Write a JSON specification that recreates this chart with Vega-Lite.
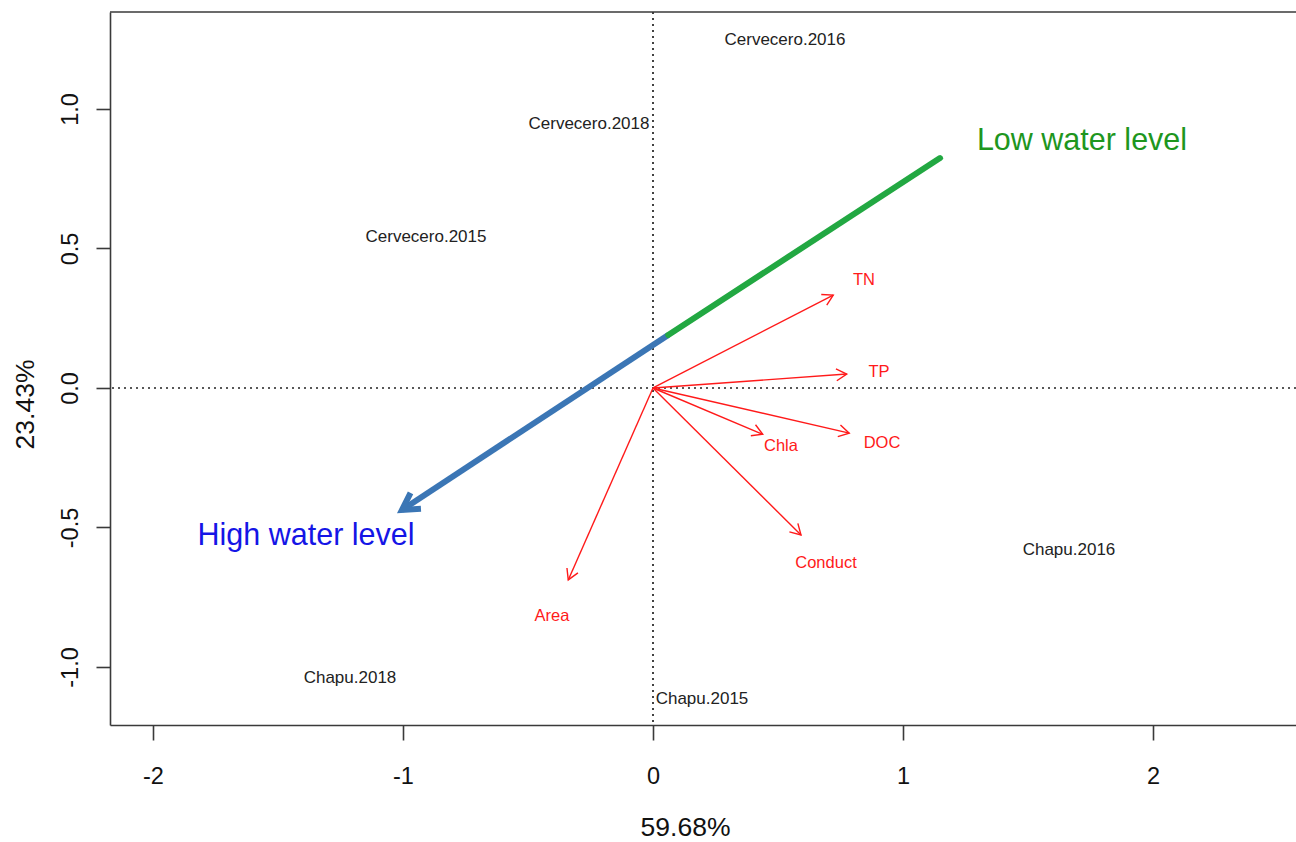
{
  "$schema": "https://vega.github.io/schema/vega-lite/v6.json",
  "width": 1186,
  "height": 713,
  "autosize": {"type": "none"},
  "padding": {"left": 110, "top": 12, "right": 0, "bottom": 117},
  "background": "white",
  "config": {
    "view": {"stroke": null},
    "font": "Liberation Sans",
    "axis": {"grid": false, "labelFont": "Liberation Sans", "titleFont": "Liberation Sans", "labelColor": "#111111", "titleColor": "#111111", "domainColor": "#3a3a3a", "tickColor": "#3a3a3a", "domainWidth": 1.6, "tickWidth": 1.6, "labelFontSize": 23.5, "titleFontSize": 26.5, "titleFontWeight": "normal", "labelOverlap": false, "labelFlush": false},
    "axisX": {"tickSize": 15, "labelPadding": 24, "labelBaseline": "top", "titleX": 575, "titleY": 110, "titleAlign": "center", "titleBaseline": "alphabetic"},
    "axisY": {"tickSize": 14, "labelAngle": 270, "labelAlign": "center", "labelBaseline": "alphabetic", "labelPadding": 19, "titleAngle": 270, "titleX": -77, "titleY": 392, "titleAlign": "center", "titleBaseline": "alphabetic"}
  },
  "datasets": {
    "sites": [
      {"label": "Cervecero.2016", "x": 0.528, "y": 1.247},
      {"label": "Cervecero.2018", "x": -0.256, "y": 0.946},
      {"label": "Cervecero.2015", "x": -0.908, "y": 0.541},
      {"label": "Chapu.2016", "x": 1.664, "y": -0.581},
      {"label": "Chapu.2018", "x": -1.212, "y": -1.039},
      {"label": "Chapu.2015", "x": 0.196, "y": -1.115}
    ],
    "arrows": [
      {"name": "TN", "kind": "var", "x0": 0, "y0": 0, "x": 0.721, "y": 0.333},
      {"name": "TP", "kind": "var", "x0": 0, "y0": 0, "x": 0.775, "y": 0.05},
      {"name": "DOC", "kind": "var", "x0": 0, "y0": 0, "x": 0.785, "y": -0.162},
      {"name": "Chla", "kind": "var", "x0": 0, "y0": 0, "x": 0.439, "y": -0.166},
      {"name": "Conduct", "kind": "var", "x0": 0, "y0": 0, "x": 0.592, "y": -0.527},
      {"name": "Area", "kind": "var", "x0": 0, "y0": 0, "x": -0.339, "y": -0.688},
      {"name": "High water level", "kind": "high", "x0": 0.061, "y0": 0.19, "x": -1.004, "y": -0.437},
      {"name": "Low water level", "kind": "low", "x0": 0.061, "y0": 0.19, "x": 1.148, "y": 0.824}
    ],
    "varlabels": [
      {"label": "TN", "x": 0.844, "y": 0.387},
      {"label": "TP", "x": 0.904, "y": 0.057},
      {"label": "DOC", "x": 0.916, "y": -0.197},
      {"label": "Chla", "x": 0.512, "y": -0.208},
      {"label": "Conduct", "x": 0.692, "y": -0.627},
      {"label": "Area", "x": -0.404, "y": -0.817}
    ],
    "notes": [
      {"label": "Low water level", "kind": "low", "x": 1.716, "y": 0.885},
      {"label": "High water level", "kind": "high", "x": -1.388, "y": -0.53}
    ]
  },
  "layer": [
    {
      "data": {"values": [{}]},
      "mark": {"type": "rule", "color": "#222222", "strokeWidth": 1.7, "strokeDash": [2, 4]},
      "encoding": {"x": {"datum": 0, "type": "quantitative", "scale": {"domain": [-2.172, 2.572], "nice": false, "zero": false}}}
    },
    {
      "data": {"values": [{}]},
      "mark": {"type": "rule", "color": "#222222", "strokeWidth": 1.7, "strokeDash": [2, 4]},
      "encoding": {"y": {"datum": 0, "type": "quantitative", "scale": {"domain": [-1.208, 1.3477], "nice": false, "zero": false}}}
    },
    {
      "data": {"values": [{}]},
      "mark": {"type": "rule", "color": "#3a3a3a", "strokeWidth": 1.6},
      "encoding": {"y": {"datum": 1.3477, "type": "quantitative", "scale": {"domain": [-1.208, 1.3477], "nice": false, "zero": false}}}
    },
    {
      "encoding": {
        "x": {"field": "x", "type": "quantitative", "scale": {"domain": [-2.172, 2.572], "nice": false, "zero": false}, "axis": {"values": [-2, -1, 0, 1, 2], "labelExpr": "datum.value < 0 ? '-' + format(abs(datum.value), 'd') : format(datum.value, 'd')", "title": "59.68%"}},
        "y": {"field": "y", "type": "quantitative", "scale": {"domain": [-1.208, 1.3477], "nice": false, "zero": false}, "axis": {"values": [-1, -0.5, 0, 0.5, 1], "labelExpr": "datum.value < 0 ? '-' + format(abs(datum.value), '.1f') : format(datum.value, '.1f')", "title": "23.43%"}}
      },
      "layer": [
        {
          "data": {"name": "arrows"},
          "transform": [{"filter": "datum.kind == 'var'"}],
          "mark": {"type": "rule", "color": "#ff1a1a", "strokeWidth": 1.4},
          "encoding": {"x2": {"field": "x0"}, "y2": {"field": "y0"}}
        },
        {
          "data": {"name": "arrows"},
          "transform": [{"filter": "datum.kind == 'high'"}],
          "mark": {"type": "rule", "color": "#3b76b5", "strokeWidth": 6, "strokeCap": "butt"},
          "encoding": {"x2": {"field": "x0"}, "y2": {"field": "y0"}}
        },
        {
          "data": {"name": "arrows"},
          "transform": [{"filter": "datum.kind == 'low'"}],
          "mark": {"type": "rule", "color": "#22a842", "strokeWidth": 6, "strokeCap": "round"},
          "encoding": {"x2": {"field": "x0"}, "y2": {"field": "y0"}}
        },
        {
          "data": {"name": "arrows"},
          "transform": [{"filter": "datum.kind == 'var'"}, {"calculate": "atan2(250 * (datum.x - datum.x0), 279 * (datum.y - datum.y0)) * 180 / PI", "as": "angle"}],
          "mark": {"type": "point", "shape": "M -0.5 0.866 L 0 0 L 0.5 0.866", "filled": false, "color": "#ff1a1a", "strokeWidth": 1.4, "size": 576, "opacity": 1},
          "encoding": {"angle": {"field": "angle", "type": "quantitative", "scale": null}}
        },
        {
          "data": {"name": "arrows"},
          "transform": [{"filter": "datum.kind == 'high'"}, {"calculate": "atan2(250 * (datum.x - datum.x0), 279 * (datum.y - datum.y0)) * 180 / PI", "as": "angle"}],
          "mark": {"type": "point", "shape": "M -0.5 0.866 L 0 0 L 0.5 0.866", "filled": false, "color": "#3b76b5", "strokeWidth": 6, "size": 1444, "opacity": 1, "strokeJoin": "miter"},
          "encoding": {"angle": {"field": "angle", "type": "quantitative", "scale": null}}
        },
        {
          "data": {"name": "sites"},
          "mark": {"type": "text", "fontSize": 17, "color": "#222222", "align": "center", "baseline": "middle"},
          "encoding": {"text": {"field": "label"}}
        },
        {
          "data": {"name": "varlabels"},
          "mark": {"type": "text", "fontSize": 16.5, "color": "#ff1a1a", "align": "center", "baseline": "middle"},
          "encoding": {"text": {"field": "label"}}
        },
        {
          "data": {"name": "notes"},
          "transform": [{"filter": "datum.kind == 'low'"}],
          "mark": {"type": "text", "fontSize": 30.5, "color": "#1e961e", "align": "center", "baseline": "middle"},
          "encoding": {"text": {"field": "label"}}
        },
        {
          "data": {"name": "notes"},
          "transform": [{"filter": "datum.kind == 'high'"}],
          "mark": {"type": "text", "fontSize": 30.5, "color": "#1515e6", "align": "center", "baseline": "middle"},
          "encoding": {"text": {"field": "label"}}
        }
      ]
    }
  ]
}
